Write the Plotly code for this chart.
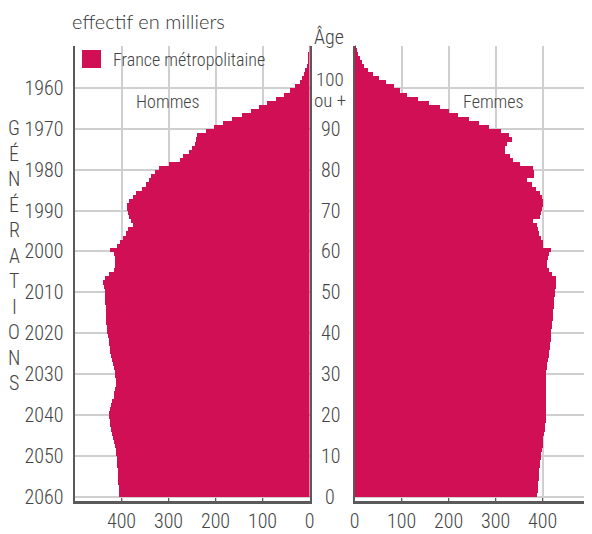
import plotly.graph_objects as go

# ---------------- data ----------------
ages = list(range(0, 111))

hommes = [406, 407, 407, 408, 408, 409, 409, 410, 410, 411,
          412, 413, 415, 417, 419, 421, 423, 425, 426, 427,
          427, 426, 424, 421, 418, 416, 414, 413, 413, 414,
          415, 417, 419, 421, 423, 425, 426, 427, 428, 430,
          431, 432, 433, 433, 434, 435, 435, 436, 436, 437,
          437, 438, 440, 437, 428, 418, 415, 414, 415, 417,
          425, 410, 405, 398, 392, 388, 376, 380, 386, 388,
          390, 389, 386, 377, 370, 358, 348, 342, 338, 329,
          322, 300, 276, 270, 258, 252, 245, 243, 240, 222,
          205, 185, 165, 145, 126, 108, 91, 72, 56, 42,
          31, 22, 17, 13, 10, 7, 5, 3.5, 2.5, 1.5,
          1]

femmes = [388, 389, 390, 390, 391, 392, 392, 393, 394, 395,
          396, 397, 399, 400, 401, 402, 404, 405, 406, 406,
          407, 407, 407, 407, 406, 406, 406, 406, 406, 407,
          407, 408, 409, 411, 412, 413, 414, 415, 416, 417,
          418, 419, 420, 421, 421, 422, 423, 423, 424, 425,
          426, 428, 428, 427, 420, 412, 409, 408, 410, 412,
          416, 401, 399, 396, 392, 389, 387, 379, 393, 396,
          398, 400, 400, 397, 393, 386, 376, 366, 380, 380,
          378, 351, 337, 330, 319, 319, 323, 333, 328, 310,
          286, 264, 242, 220, 200, 180, 157, 135, 110, 96,
          82, 67, 51, 38, 28, 20, 15, 10, 6, 3.5,
          2]

age_ticks = [0, 10, 20, 30, 40, 50, 60, 70, 80, 90]
gen_ticks = [0, 10, 20, 30, 40, 50, 60, 70, 80, 90, 100]
gen_labels = ["2060", "2050", "2040", "2030", "2020", "2010",
              "2000", "1990", "1980", "1970", "1960"]
x_ticks = [0, 100, 200, 300, 400]

# ---------------- style ----------------
# the page body has an 8 px margin: the figure is drawn 8 px in from the window corner
OFF = 8
W, H = 592 - OFF, 534 - OFF
COLOR = "#D10F54"
GRID = "#cfcfcf"
AXIS = "#5a5a5a"
TXT = "#444444"
NARROW = "Liberation Sans Narrow, Roboto Condensed, Arial Narrow, Roboto, sans-serif"
WT = 300

def px(xp):
    return (xp - OFF) / W

def py(yp):
    return 1 - (yp - OFF) / H

def f(size, color=TXT, family=NARROW, weight=WT):
    return dict(family=family, size=size, color=color, weight=weight)

xl = [px(74.5), px(309.5)]
xr = [px(354.7), px(589.7)]
ydom = [py(501), py(45.6)]
yrange = [-1.1, 110.4]

fig = go.Figure()
fig.add_trace(go.Bar(x=hommes, y=ages, orientation="h", width=1, offset=0,
                     marker=dict(color=COLOR, line=dict(width=0)),
                     xaxis="x", yaxis="y", showlegend=False, hoverinfo="skip"))
fig.add_trace(go.Bar(x=femmes, y=ages, orientation="h", width=1, offset=0,
                     marker=dict(color=COLOR, line=dict(width=0)),
                     xaxis="x2", yaxis="y2", showlegend=False, hoverinfo="skip"))

common_x = dict(tickvals=x_ticks, showgrid=True, gridcolor=GRID, gridwidth=1.5,
                showline=True, linecolor=AXIS, linewidth=2.5, ticks="inside",
                ticklen=3, tickcolor=AXIS, zeroline=False,
                tickfont=f(20), automargin=False)

fig.update_layout(
    width=W, height=H, autosize=False,
    margin=dict(l=0, r=0, t=0, b=0),
    paper_bgcolor="white", plot_bgcolor="white",
    bargap=0,
    xaxis=dict(domain=xl, range=[500, 0], anchor="y", **common_x),
    xaxis2=dict(domain=xr, range=[0, 500], anchor="y2", **common_x),
    yaxis=dict(domain=ydom, range=yrange, anchor="x", tickvals=gen_ticks,
               ticktext=gen_labels, showgrid=True, gridcolor=GRID, gridwidth=1.5,
               showline=True, mirror=True, linecolor=AXIS, linewidth=2,
               ticks="", zeroline=False, ticklabelstandoff=5,
               tickfont=f(20), automargin=False),
    yaxis2=dict(domain=ydom, range=yrange, anchor="x2", tickvals=gen_ticks,
                showticklabels=False, showgrid=True, gridcolor=GRID, gridwidth=1.5,
                showline=True, linecolor=AXIS, linewidth=2, ticks="",
                zeroline=False, automargin=False),
)

ann = []
center_x = px(330)
for a in age_ticks:
    ann.append(dict(x=center_x, xref="paper", y=a, yref="y", text=str(a),
                    showarrow=False, xanchor="center", yanchor="middle", font=f(20)))
ann.append(dict(x=center_x, xref="paper", y=100, yref="y", text="100", yshift=9,
                showarrow=False, xanchor="center", yanchor="middle", font=f(19)))
ann.append(dict(x=center_x, xref="paper", y=100, yref="y", text="ou +", yshift=-12,
                showarrow=False, xanchor="center", yanchor="middle", font=f(19)))
ann.append(dict(x=px(329), xref="paper", y=py(37), yref="paper", text="Âge",
                showarrow=False, xanchor="center", yanchor="middle", font=f(20)))
ann.append(dict(x=px(70), xref="paper", y=py(21), yref="paper",
                text="effectif en milliers", showarrow=False,
                xanchor="left", yanchor="middle",
                font=f(20, color="#333", family="Lato, Open Sans, sans-serif", weight=300)))
ann.append(dict(x=px(168), xref="paper", y=py(101), yref="paper", text="Hommes",
                showarrow=False, xanchor="center", yanchor="middle", font=f(18)))
ann.append(dict(x=px(493), xref="paper", y=py(101), yref="paper", text="Femmes",
                showarrow=False, xanchor="center", yanchor="middle", font=f(18)))
ann.append(dict(x=px(111), xref="paper", y=py(59), yref="paper",
                text="France métropolitaine", showarrow=False,
                xanchor="left", yanchor="middle", font=f(18)))
letters = list("GÉNÉRATIONS")
for i, ch in enumerate(letters):
    ann.append(dict(x=px(14), xref="paper", y=py(128 + i * 25.5), yref="paper",
                    text=ch, showarrow=False, xanchor="center", yanchor="middle",
                    font=f(20)))
fig.update_layout(annotations=ann)

fig.add_shape(type="rect", xref="paper", yref="paper",
              x0=px(82), x1=px(101), y0=py(68), y1=py(50),
              fillcolor=COLOR, line=dict(width=0))

fig.write_html("out.html")
